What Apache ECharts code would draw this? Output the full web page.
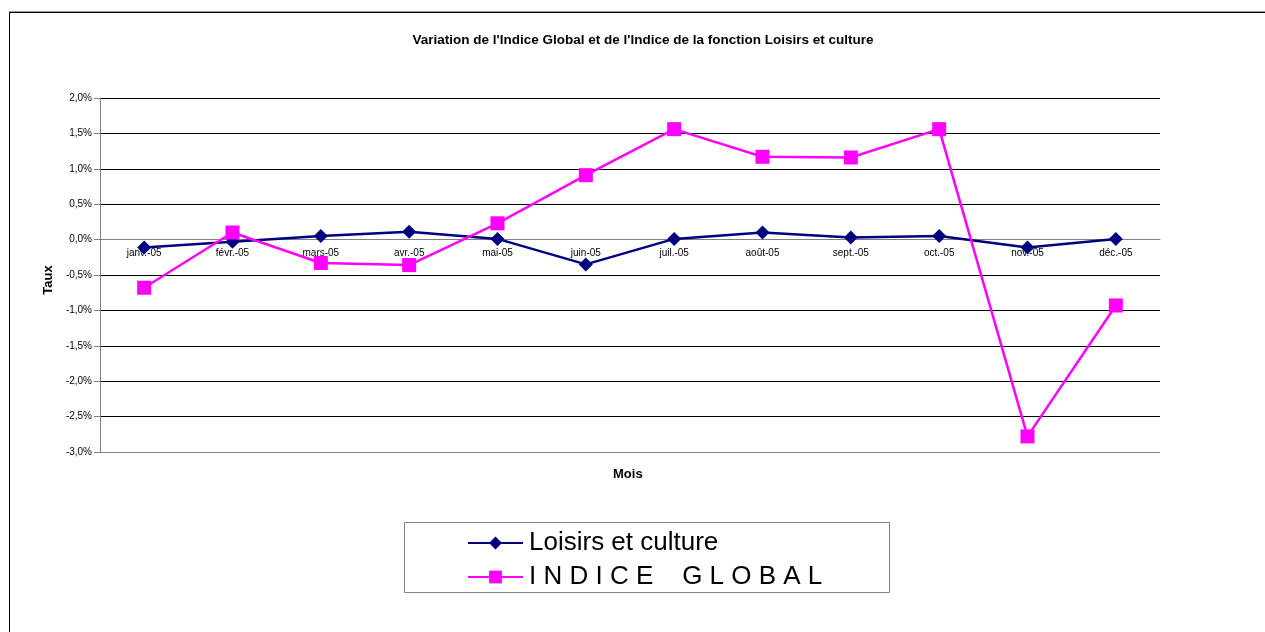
<!DOCTYPE html>
<html>
<head>
<meta charset="utf-8">
<script src="https://cdn.jsdelivr.net/npm/echarts@6/dist/echarts.min.js"></script>
<style>
html,body{margin:0;padding:0;background:#fff;}
#frame{position:absolute;left:9px;top:12px;width:1300px;height:700px;border-top:1px solid #000;border-left:1px solid #000;box-shadow:0 -1px 0 #999;}
#chart{position:absolute;left:0;top:0;width:1265px;height:632px;}
</style>
</head>
<body>
<div id="frame"></div>
<div id="chart"></div>
<script>
var months = ['janv.-05','févr.-05','mars-05','avr.-05','mai-05','juin-05','juil.-05','août-05','sept.-05','oct.-05','nov.-05','déc.-05'];
var loisirsCulture = [-0.11, -0.03, 0.05, 0.11, 0.01, -0.35, 0.01, 0.10, 0.03, 0.05, -0.11, 0.01];
var indiceGlobal = [-0.68, 0.10, -0.33, -0.36, 0.23, 0.91, 1.56, 1.17, 1.16, 1.56, -2.78, -0.93];
var yTicks = [-3.0, -2.5, -2.0, -1.5, -1.0, -0.5, 0.0, 0.5, 1.0, 1.5, 2.0];
var titleText = "Variation de l'Indice Global et de l'Indice de la fonction Loisirs et culture";
var seriesNames = ['Loisirs et culture', 'I N D I C E    G L O B A L'];

var yMin = yTicks[0], yMax = yTicks[yTicks.length - 1];
var gridTop = 98, gridBottom = 180, chartH = 632;
var plotH = chartH - gridTop - gridBottom;
var zeroOffset = -((0 - yMin) / (yMax - yMin)) * plotH;

var chart = echarts.init(document.getElementById('chart'), null, {renderer:'canvas'});
var gridColors = yTicks.map(function(v,i){ return i === 0 ? '#808080' : '#000000'; });
chart.setOption({
  backgroundColor: 'transparent',
  animation: false,
  title: {
    text: titleText,
    left: 638, top: 28, textAlign: 'center',
    textStyle: {fontFamily: 'Arial, Liberation Sans', fontSize: 13.5, fontWeight: 'bold', color: '#000'}
  },
  grid: {left: 100, right: 105, top: gridTop, bottom: gridBottom},
  xAxis: {
    type: 'category',
    data: months,
    boundaryGap: true,
    offset: zeroOffset,
    axisLine: {onZero: false, lineStyle: {color: '#808080', width: 1}},
    axisTick: {show: false},
    axisLabel: {interval: 0, margin: 9, fontFamily: 'Arial, Liberation Sans', fontSize: 10, color: '#000'},
    z: 1
  },
  yAxis: {
    type: 'value',
    min: yMin, max: yMax, interval: 0.5,
    axisLine: {show: true, lineStyle: {color: '#808080', width: 1}},
    axisTick: {show: true, length: 6, inside: false, lineStyle: {color: '#808080'}},
    axisLabel: {margin: 8, fontFamily: 'Arial, Liberation Sans', fontSize: 10, color: '#000',
      formatter: function(v){ return v.toFixed(1).replace('.', ',') + '%'; }},
    splitLine: {show: true, lineStyle: {color: gridColors, width: 1}}
  },
  legend: {
    orient: 'vertical',
    left: 462, top: 525,
    itemWidth: 55, itemHeight: 16,
    itemGap: 8,
    data: seriesNames,
    textStyle: {fontFamily: 'Arial, Liberation Sans', fontSize: 26, color: '#000', padding: [0,0,0,1]}
  },
  graphic: [
    {type: 'rect', left: 402, top: 520, shape: {width: 485, height: 70}, style: {fill: 'none', stroke: '#808080', lineWidth: 1}, z: -1},
    {type: 'text', left: 613, top: 468, style: {text: 'Mois', font: 'bold 13px Arial, Liberation Sans', fill: '#000'}},
    {type: 'text', x: 48, y: 280, rotation: Math.PI/2, style: {text: 'Taux', font: 'bold 13px Arial, Liberation Sans', fill: '#000', textAlign: 'center', textVerticalAlign: 'middle'}}
  ],
  series: [
    {
      name: seriesNames[0], type: 'line', data: loisirsCulture,
      symbol: 'diamond', symbolSize: [14, 14], showAllSymbol: true,
      lineStyle: {color: '#000080', width: 2.5},
      itemStyle: {color: '#000080'}
    },
    {
      name: seriesNames[1], type: 'line', data: indiceGlobal,
      symbol: 'rect', symbolSize: 14, showAllSymbol: true,
      lineStyle: {color: '#FF00FF', width: 2.5},
      itemStyle: {color: '#FF00FF'}
    }
  ]
});
</script>
</body>
</html>
